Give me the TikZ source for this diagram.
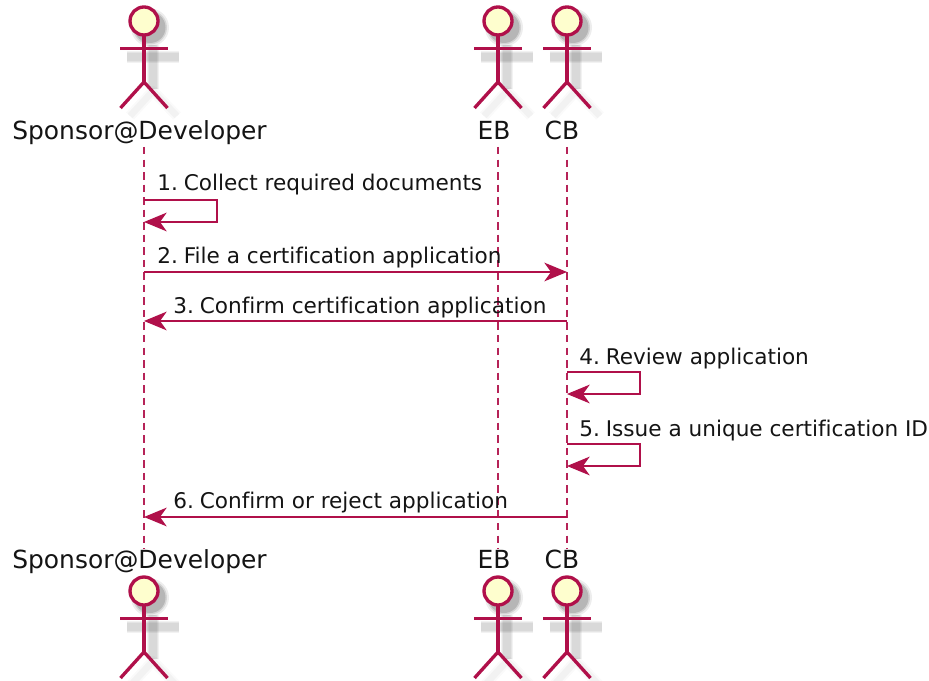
\documentclass[tikz,border=0pt]{standalone}
\usepackage{fontspec}
\setmainfont[RawFeature={-liga}]{DejaVu Sans}
\usetikzlibrary{arrows.meta}
\definecolor{umlred}{HTML}{B0104A}
\definecolor{umlhead}{HTML}{FEFECE}
\definecolor{umltext}{HTML}{141414}
\newcommand{\numgap}{\hspace{-2.4pt}}
\tikzset{
  x=0.75pt,y=-0.75pt,
  lifeline/.style={umlred!92!white,line width=1.5pt,dash pattern=on 5.6pt off 3.8pt},
  msg/.style={umlred,line width=1.6pt,-{Stealth[length=17pt,width=14pt,inset=5pt]}},
  msgtext/.style={anchor=base west,inner sep=0pt,text=umltext,font=\fontsize{16.2}{18}\selectfont},
  actortext/.style={anchor=base,inner sep=0pt,text=umltext,font=\fontsize{18.7}{20}\selectfont},
  actor/.pic={
    \foreach \w/\o in {9pt/0.05,7.5pt/0.05,6pt/0.05}{
      \draw[line width=\w,draw=black,draw opacity=\o] (-17,36) -- (35,36);
      \draw[line width=\w,draw=black,draw opacity=\o] (9,24) -- (9,68);
    }
    \foreach \w/\o in {8pt/0.02,5pt/0.03}{
      \draw[line width=\w,draw=black,draw opacity=\o,line join=round] (-14,95) -- (9,70) -- (33,95);
    }
    \foreach \r/\o in {19/0.07,17/0.1,15.5/0.14}{
      \fill[black,opacity=\o] (6,6.5) circle (\r);
    }
    \draw[umlred,line width=2.5pt,fill=umlhead] (0,0) circle (14);
    \draw[umlred,line width=2.5pt] (0,14) -- (0,61);
    \draw[umlred,line width=2.5pt] (-24,27.5) -- (24,27.5);
    \draw[umlred,line width=2.5pt] (-23.5,87) -- (0,61) -- (23.5,87);
  }
}
\begin{document}
\begin{tikzpicture}
\useasboundingbox (0,0) rectangle (929,681);
\fill[white] (0,0) rectangle (929,681);

% lifelines
\coordinate (sT) at (144,147); \coordinate (sB) at (144,549);
\coordinate (eT) at (498,147); \coordinate (eB) at (498,549);
\coordinate (cT) at (567,147); \coordinate (cB) at (567,549);
\draw[lifeline] (sT) -- (sB);
\draw[lifeline] (eT) -- (eB);
\draw[lifeline] (cT) -- (cB);

% actors
\pic at (144,21) {actor};
\pic at (498,21) {actor};
\pic at (567,21) {actor};
\pic at (144,591) {actor};
\pic at (498,591) {actor};
\pic at (567,591) {actor};

% actor labels
\node[actortext] (sponsorTop) at (139.5,140) {Sponsor@Developer};
\node[actortext] (ebTop) at (494,140) {EB};
\node[actortext] (cbTop) at (562,140) {CB};
\node[actortext] (sponsorBot) at (139.5,568) {Sponsor@Developer};
\node[actortext] (ebBot) at (494,568) {EB};
\node[actortext] (cbBot) at (562,568) {CB};

% message anchors
\coordinate (s1a) at (144,200); \coordinate (s1b) at (144,222);
\coordinate (m2a) at (144,272); \coordinate (m2b) at (567,272);
\coordinate (m3a) at (567,321); \coordinate (m3b) at (144,321);
\coordinate (s4a) at (567,372); \coordinate (s4b) at (567,394);
\coordinate (s5a) at (567,444); \coordinate (s5b) at (567,466);
\coordinate (m6a) at (567,517); \coordinate (m6b) at (144,517);

\draw[msg] (s1a) -- (217,200) -- (217,222) -- (s1b);
\draw[msg] (m2a) -- (m2b);
\draw[msg] (m3a) -- (m3b);
\draw[msg] (s4a) -- (640,372) -- (640,394) -- (s4b);
\draw[msg] (s5a) -- (640,444) -- (640,466) -- (s5b);
\draw[msg] (m6a) -- (m6b);

% message labels
\node[msgtext] (t1) at (157,191) {1.\numgap{} Collect required documents};
\node[msgtext] (t2) at (157,263) {2.\numgap{} File a certification application};
\node[msgtext] (t3) at (173,314) {3.\numgap{} Confirm certification application};
\node[msgtext] (t4) at (579,364) {4.\numgap{} Review application};
\node[msgtext] (t5) at (579,436) {5.\numgap{} Issue a unique certification ID};
\node[msgtext] (t6) at (173,508) {6.\numgap{} Confirm or reject application};
\end{tikzpicture}
\end{document}
